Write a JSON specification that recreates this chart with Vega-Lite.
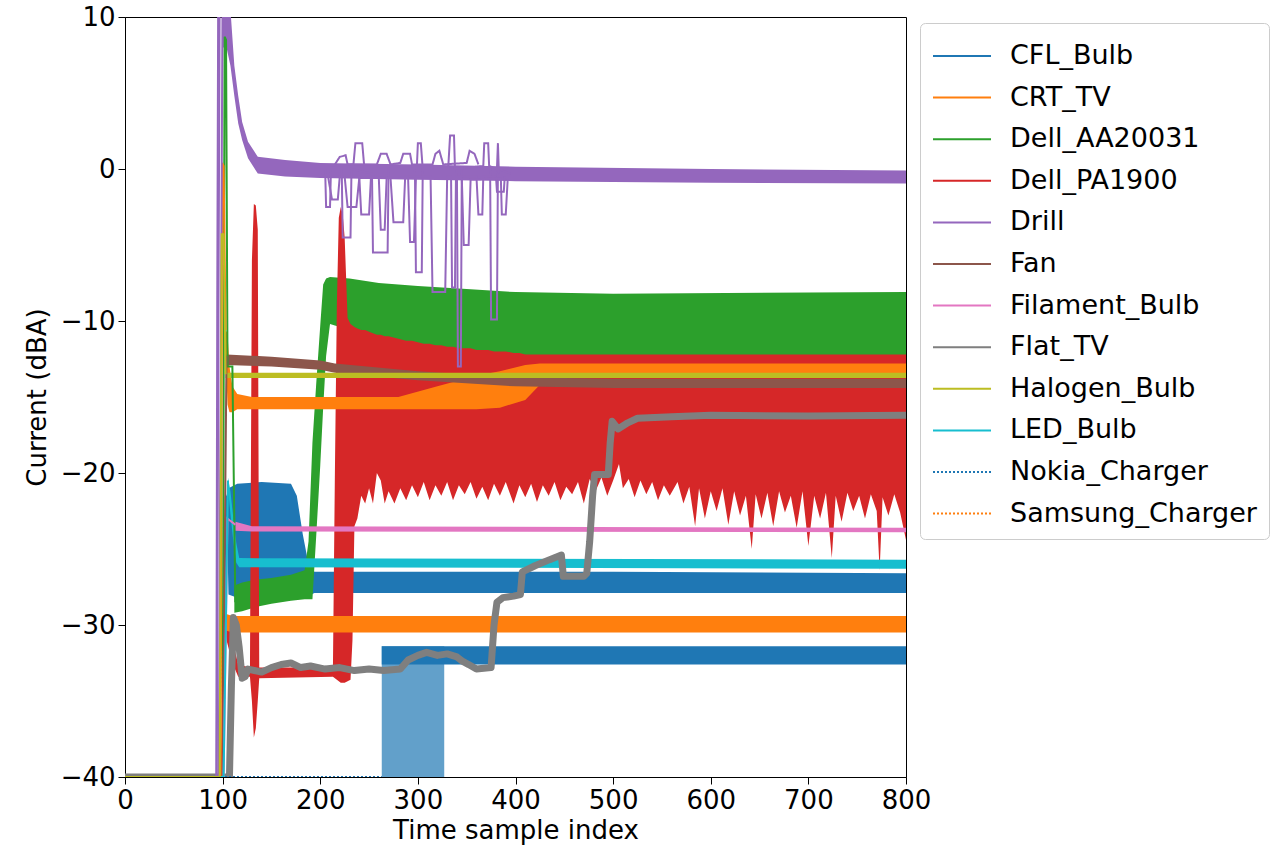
{
  "$schema": "https://vega.github.io/schema/vega-lite/v6.json",
  "width": 781,
  "height": 760,
  "autosize": "none",
  "padding": {"left": 125, "top": 17, "right": 370, "bottom": 70},
  "background": "white",
  "config": {
    "view": {"stroke": "#000000", "strokeWidth": 1},
    "axis": {"grid": false, "domainColor": "#000000", "tickColor": "#000000", "labelColor": "#000000", "titleColor": "#000000", "labelFont": "DejaVu Sans", "titleFont": "DejaVu Sans", "labelFontSize": 26, "titleFontSize": 26, "titleFontWeight": "normal", "tickSize": 7, "labelPadding": 3, "labelFlush": false, "labelOverlap": false},
    "legend": {"title": null, "orient": "none", "legendX": 795, "legendY": 6, "symbolType": "M-1,0L1.9,0", "symbolSize": 1600, "symbolStrokeWidth": 2, "labelFontSize": 27, "labelFont": "DejaVu Sans", "labelColor": "#000000", "labelOffset": 36, "rowPadding": 7.6, "padding": 12, "strokeColor": "#cccccc", "cornerRadius": 5, "fillColor": "white", "labelLimit": 400}
  },
  "datasets": {
    "bands": [
      {"d": "CFL_Bulb", "s": "s01", "x": 104, "lo": -22, "hi": -21.5},
      {"d": "CFL_Bulb", "s": "s01", "x": 106, "lo": -28, "hi": -21},
      {"d": "CFL_Bulb", "s": "s01", "x": 115, "lo": -28.2, "hi": -20.7},
      {"d": "CFL_Bulb", "s": "s01", "x": 140, "lo": -28.3, "hi": -20.6},
      {"d": "CFL_Bulb", "s": "s01", "x": 170, "lo": -28.3, "hi": -20.7},
      {"d": "CFL_Bulb", "s": "s01", "x": 176, "lo": -28.3, "hi": -21.5},
      {"d": "CFL_Bulb", "s": "s01", "x": 182, "lo": -28.2, "hi": -24},
      {"d": "CFL_Bulb", "s": "s01", "x": 188, "lo": -28.1, "hi": -26},
      {"d": "CFL_Bulb", "s": "s01", "x": 194, "lo": -27.9, "hi": -26.5},
      {"d": "CFL_Bulb", "s": "s01", "x": 500, "lo": -27.9, "hi": -26.5},
      {"d": "CFL_Bulb", "s": "s01", "x": 800, "lo": -27.9, "hi": -26.6},

      {"d": "Dell_AA20031", "s": "s02", "x": 112, "lo": -29.2, "hi": -27.4},
      {"d": "Dell_AA20031", "s": "s02", "x": 120, "lo": -29.1, "hi": -27.2},
      {"d": "Dell_AA20031", "s": "s02", "x": 135, "lo": -28.8, "hi": -27},
      {"d": "Dell_AA20031", "s": "s02", "x": 150, "lo": -28.6, "hi": -26.9},
      {"d": "Dell_AA20031", "s": "s02", "x": 170, "lo": -28.4, "hi": -26.7},
      {"d": "Dell_AA20031", "s": "s02", "x": 184, "lo": -28.3, "hi": -26.4},
      {"d": "Dell_AA20031", "s": "s02", "x": 188, "lo": -28.3, "hi": -24.5},
      {"d": "Dell_AA20031", "s": "s02", "x": 192, "lo": -28.3, "hi": -18},
      {"d": "Dell_AA20031", "s": "s02", "x": 196, "lo": -24, "hi": -14},
      {"d": "Dell_AA20031", "s": "s02", "x": 200, "lo": -19.5, "hi": -10.3},
      {"d": "Dell_AA20031", "s": "s02", "x": 203, "lo": -15.7, "hi": -7.6},
      {"d": "Dell_AA20031", "s": "s02", "x": 206, "lo": -12.3, "hi": -7.2},
      {"d": "Dell_AA20031", "s": "s02", "x": 210, "lo": -10.2, "hi": -7.1},
      {"d": "Dell_AA20031", "s": "s02", "x": 230, "lo": -10.6, "hi": -7.2},
      {"d": "Dell_AA20031", "s": "s02", "x": 260, "lo": -11.1, "hi": -7.5},
      {"d": "Dell_AA20031", "s": "s02", "x": 300, "lo": -11.6, "hi": -7.7},
      {"d": "Dell_AA20031", "s": "s02", "x": 350, "lo": -12, "hi": -7.9},
      {"d": "Dell_AA20031", "s": "s02", "x": 400, "lo": -12.3, "hi": -8.1},
      {"d": "Dell_AA20031", "s": "s02", "x": 500, "lo": -12.4, "hi": -8.2},
      {"d": "Dell_AA20031", "s": "s02", "x": 800, "lo": -12.4, "hi": -8.1},

      {"d": "Dell_PA1900", "s": "s03", "x": 102, "lo": -30, "hi": -29},
      {"d": "Dell_PA1900", "s": "s03", "x": 104, "lo": -31, "hi": -29.5},
      {"d": "Dell_PA1900", "s": "s03", "x": 110, "lo": -32.5, "hi": -31},
      {"d": "Dell_PA1900", "s": "s03", "x": 116, "lo": -33.4, "hi": -32.6},
      {"d": "Dell_PA1900", "s": "s03", "x": 128, "lo": -33.4, "hi": -32.8},
      {"d": "Dell_PA1900", "s": "s03", "x": 130, "lo": -35, "hi": -6},
      {"d": "Dell_PA1900", "s": "s03", "x": 132, "lo": -37.4, "hi": -2.3},
      {"d": "Dell_PA1900", "s": "s03", "x": 134, "lo": -36.8, "hi": -2.4},
      {"d": "Dell_PA1900", "s": "s03", "x": 136, "lo": -35, "hi": -4},
      {"d": "Dell_PA1900", "s": "s03", "x": 137.5, "lo": -33.5, "hi": -32.8},
      {"d": "Dell_PA1900", "s": "s03", "x": 213, "lo": -33.4, "hi": -32.8},
      {"d": "Dell_PA1900", "s": "s03", "x": 215, "lo": -33.5, "hi": -20},
      {"d": "Dell_PA1900", "s": "s03", "x": 217, "lo": -33.6, "hi": -9},
      {"d": "Dell_PA1900", "s": "s03", "x": 219, "lo": -33.7, "hi": -3.2},
      {"d": "Dell_PA1900", "s": "s03", "x": 221, "lo": -33.8, "hi": -2.5},
      {"d": "Dell_PA1900", "s": "s03", "x": 223, "lo": -33.8, "hi": -3},
      {"d": "Dell_PA1900", "s": "s03", "x": 225, "lo": -33.8, "hi": -4.5},
      {"d": "Dell_PA1900", "s": "s03", "x": 228, "lo": -33.7, "hi": -9.8},
      {"d": "Dell_PA1900", "s": "s03", "x": 231, "lo": -33.6, "hi": -10.2},
      {"d": "Dell_PA1900", "s": "s03", "x": 233, "lo": -31, "hi": -10.3},
      {"d": "Dell_PA1900", "s": "s03", "x": 235, "lo": -23.5, "hi": -10.4},
      {"d": "Dell_PA1900", "s": "s03", "x": 238, "lo": -23, "hi": -10.5},
      {"d": "Dell_PA1900", "s": "s03", "x": 242, "lo": -21.5, "hi": -10.6},
      {"d": "Dell_PA1900", "s": "s03", "x": 246, "lo": -22, "hi": -10.6},
      {"d": "Dell_PA1900", "s": "s03", "x": 250, "lo": -21, "hi": -10.7},
      {"d": "Dell_PA1900", "s": "s03", "x": 254, "lo": -22, "hi": -10.8},
      {"d": "Dell_PA1900", "s": "s03", "x": 258, "lo": -20, "hi": -10.9},
      {"d": "Dell_PA1900", "s": "s03", "x": 262, "lo": -20.5, "hi": -10.9},
      {"d": "Dell_PA1900", "s": "s03", "x": 266, "lo": -22, "hi": -11},
      {"d": "Dell_PA1900", "s": "s03", "x": 270, "lo": -21.2, "hi": -11},
      {"d": "Dell_PA1900", "s": "s03", "x": 276, "lo": -22, "hi": -11.1},
      {"d": "Dell_PA1900", "s": "s03", "x": 282, "lo": -21, "hi": -11.2},
      {"d": "Dell_PA1900", "s": "s03", "x": 288, "lo": -21.8, "hi": -11.3},
      {"d": "Dell_PA1900", "s": "s03", "x": 294, "lo": -20.8, "hi": -11.3},
      {"d": "Dell_PA1900", "s": "s03", "x": 300, "lo": -21.6, "hi": -11.4},
      {"d": "Dell_PA1900", "s": "s03", "x": 306, "lo": -20.6, "hi": -11.5},
      {"d": "Dell_PA1900", "s": "s03", "x": 312, "lo": -21.8, "hi": -11.5},
      {"d": "Dell_PA1900", "s": "s03", "x": 318, "lo": -20.8, "hi": -11.6},
      {"d": "Dell_PA1900", "s": "s03", "x": 324, "lo": -21.5, "hi": -11.6},
      {"d": "Dell_PA1900", "s": "s03", "x": 330, "lo": -20.6, "hi": -11.7},
      {"d": "Dell_PA1900", "s": "s03", "x": 336, "lo": -21.8, "hi": -11.7},
      {"d": "Dell_PA1900", "s": "s03", "x": 342, "lo": -20.8, "hi": -11.8},
      {"d": "Dell_PA1900", "s": "s03", "x": 348, "lo": -21.4, "hi": -11.8},
      {"d": "Dell_PA1900", "s": "s03", "x": 354, "lo": -20.6, "hi": -11.8},
      {"d": "Dell_PA1900", "s": "s03", "x": 360, "lo": -21.7, "hi": -11.9},
      {"d": "Dell_PA1900", "s": "s03", "x": 366, "lo": -20.9, "hi": -11.9},
      {"d": "Dell_PA1900", "s": "s03", "x": 372, "lo": -21.8, "hi": -11.9},
      {"d": "Dell_PA1900", "s": "s03", "x": 378, "lo": -20.7, "hi": -12},
      {"d": "Dell_PA1900", "s": "s03", "x": 384, "lo": -21.5, "hi": -12},
      {"d": "Dell_PA1900", "s": "s03", "x": 390, "lo": -20.6, "hi": -12},
      {"d": "Dell_PA1900", "s": "s03", "x": 398, "lo": -22, "hi": -12.1},
      {"d": "Dell_PA1900", "s": "s03", "x": 404, "lo": -20.8, "hi": -12.1},
      {"d": "Dell_PA1900", "s": "s03", "x": 410, "lo": -21.6, "hi": -12.2},
      {"d": "Dell_PA1900", "s": "s03", "x": 416, "lo": -20.7, "hi": -12.2},
      {"d": "Dell_PA1900", "s": "s03", "x": 422, "lo": -21.9, "hi": -12.2},
      {"d": "Dell_PA1900", "s": "s03", "x": 428, "lo": -20.8, "hi": -12.2},
      {"d": "Dell_PA1900", "s": "s03", "x": 434, "lo": -21.5, "hi": -12.2},
      {"d": "Dell_PA1900", "s": "s03", "x": 440, "lo": -20.6, "hi": -12.2},
      {"d": "Dell_PA1900", "s": "s03", "x": 446, "lo": -21.8, "hi": -12.2},
      {"d": "Dell_PA1900", "s": "s03", "x": 452, "lo": -20.9, "hi": -12.2},
      {"d": "Dell_PA1900", "s": "s03", "x": 458, "lo": -21.4, "hi": -12.2},
      {"d": "Dell_PA1900", "s": "s03", "x": 464, "lo": -20.6, "hi": -12.2},
      {"d": "Dell_PA1900", "s": "s03", "x": 470, "lo": -22, "hi": -12.2},
      {"d": "Dell_PA1900", "s": "s03", "x": 476, "lo": -20.4, "hi": -12.2},
      {"d": "Dell_PA1900", "s": "s03", "x": 482, "lo": -21.2, "hi": -12.2},
      {"d": "Dell_PA1900", "s": "s03", "x": 488, "lo": -20.3, "hi": -12.2},
      {"d": "Dell_PA1900", "s": "s03", "x": 494, "lo": -21.5, "hi": -12.2},
      {"d": "Dell_PA1900", "s": "s03", "x": 500, "lo": -20.5, "hi": -12.2},
      {"d": "Dell_PA1900", "s": "s03", "x": 506, "lo": -19.4, "hi": -12.2},
      {"d": "Dell_PA1900", "s": "s03", "x": 510, "lo": -21, "hi": -12.2},
      {"d": "Dell_PA1900", "s": "s03", "x": 516, "lo": -20.4, "hi": -12.2},
      {"d": "Dell_PA1900", "s": "s03", "x": 522, "lo": -21.6, "hi": -12.2},
      {"d": "Dell_PA1900", "s": "s03", "x": 528, "lo": -20.5, "hi": -12.2},
      {"d": "Dell_PA1900", "s": "s03", "x": 534, "lo": -21.4, "hi": -12.2},
      {"d": "Dell_PA1900", "s": "s03", "x": 540, "lo": -20.6, "hi": -12.2},
      {"d": "Dell_PA1900", "s": "s03", "x": 546, "lo": -21.8, "hi": -12.2},
      {"d": "Dell_PA1900", "s": "s03", "x": 552, "lo": -20.8, "hi": -12.2},
      {"d": "Dell_PA1900", "s": "s03", "x": 558, "lo": -21.5, "hi": -12.2},
      {"d": "Dell_PA1900", "s": "s03", "x": 566, "lo": -20.6, "hi": -12.2},
      {"d": "Dell_PA1900", "s": "s03", "x": 572, "lo": -22, "hi": -12.2},
      {"d": "Dell_PA1900", "s": "s03", "x": 578, "lo": -20.9, "hi": -12.2},
      {"d": "Dell_PA1900", "s": "s03", "x": 584, "lo": -23.5, "hi": -12.2},
      {"d": "Dell_PA1900", "s": "s03", "x": 588, "lo": -21, "hi": -12.2},
      {"d": "Dell_PA1900", "s": "s03", "x": 594, "lo": -23, "hi": -12.2},
      {"d": "Dell_PA1900", "s": "s03", "x": 600, "lo": -21.2, "hi": -12.2},
      {"d": "Dell_PA1900", "s": "s03", "x": 606, "lo": -22.5, "hi": -12.2},
      {"d": "Dell_PA1900", "s": "s03", "x": 612, "lo": -21, "hi": -12.2},
      {"d": "Dell_PA1900", "s": "s03", "x": 618, "lo": -23.4, "hi": -12.2},
      {"d": "Dell_PA1900", "s": "s03", "x": 624, "lo": -21.2, "hi": -12.2},
      {"d": "Dell_PA1900", "s": "s03", "x": 630, "lo": -22.8, "hi": -12.2},
      {"d": "Dell_PA1900", "s": "s03", "x": 636, "lo": -21.5, "hi": -12.2},
      {"d": "Dell_PA1900", "s": "s03", "x": 642, "lo": -25, "hi": -12.2},
      {"d": "Dell_PA1900", "s": "s03", "x": 646, "lo": -21.4, "hi": -12.2},
      {"d": "Dell_PA1900", "s": "s03", "x": 652, "lo": -23, "hi": -12.2},
      {"d": "Dell_PA1900", "s": "s03", "x": 658, "lo": -21.3, "hi": -12.2},
      {"d": "Dell_PA1900", "s": "s03", "x": 664, "lo": -23.5, "hi": -12.2},
      {"d": "Dell_PA1900", "s": "s03", "x": 670, "lo": -21.2, "hi": -12.2},
      {"d": "Dell_PA1900", "s": "s03", "x": 676, "lo": -22.6, "hi": -12.2},
      {"d": "Dell_PA1900", "s": "s03", "x": 682, "lo": -21.5, "hi": -12.2},
      {"d": "Dell_PA1900", "s": "s03", "x": 688, "lo": -23.6, "hi": -12.2},
      {"d": "Dell_PA1900", "s": "s03", "x": 694, "lo": -21.2, "hi": -12.2},
      {"d": "Dell_PA1900", "s": "s03", "x": 700, "lo": -24.8, "hi": -12.2},
      {"d": "Dell_PA1900", "s": "s03", "x": 706, "lo": -21.5, "hi": -12.2},
      {"d": "Dell_PA1900", "s": "s03", "x": 712, "lo": -23, "hi": -12.2},
      {"d": "Dell_PA1900", "s": "s03", "x": 718, "lo": -21.3, "hi": -12.2},
      {"d": "Dell_PA1900", "s": "s03", "x": 724, "lo": -25.6, "hi": -12.2},
      {"d": "Dell_PA1900", "s": "s03", "x": 728, "lo": -21.5, "hi": -12.2},
      {"d": "Dell_PA1900", "s": "s03", "x": 734, "lo": -23.2, "hi": -12.2},
      {"d": "Dell_PA1900", "s": "s03", "x": 740, "lo": -21.3, "hi": -12.2},
      {"d": "Dell_PA1900", "s": "s03", "x": 746, "lo": -22.5, "hi": -12.2},
      {"d": "Dell_PA1900", "s": "s03", "x": 752, "lo": -21.5, "hi": -12.2},
      {"d": "Dell_PA1900", "s": "s03", "x": 758, "lo": -23, "hi": -12.2},
      {"d": "Dell_PA1900", "s": "s03", "x": 764, "lo": -21.4, "hi": -12.2},
      {"d": "Dell_PA1900", "s": "s03", "x": 770, "lo": -22.5, "hi": -12.2},
      {"d": "Dell_PA1900", "s": "s03", "x": 773, "lo": -26.4, "hi": -12.2},
      {"d": "Dell_PA1900", "s": "s03", "x": 776, "lo": -21.6, "hi": -12.2},
      {"d": "Dell_PA1900", "s": "s03", "x": 782, "lo": -22.8, "hi": -12.2},
      {"d": "Dell_PA1900", "s": "s03", "x": 788, "lo": -21.4, "hi": -12.2},
      {"d": "Dell_PA1900", "s": "s03", "x": 794, "lo": -22.6, "hi": -12.2},
      {"d": "Dell_PA1900", "s": "s03", "x": 800, "lo": -24.4, "hi": -12.2},

      {"d": "CRT_TV", "s": "s04", "x": 103, "lo": -12, "hi": -10.6},
      {"d": "CRT_TV", "s": "s04", "x": 105, "lo": -15.5, "hi": -10.8},
      {"d": "CRT_TV", "s": "s04", "x": 107, "lo": -16, "hi": -13},
      {"d": "CRT_TV", "s": "s04", "x": 110, "lo": -16, "hi": -14.3},
      {"d": "CRT_TV", "s": "s04", "x": 115, "lo": -15.8, "hi": -14.8},
      {"d": "CRT_TV", "s": "s04", "x": 130, "lo": -15.8, "hi": -15},
      {"d": "CRT_TV", "s": "s04", "x": 280, "lo": -15.8, "hi": -15},
      {"d": "CRT_TV", "s": "s04", "x": 320, "lo": -15.8, "hi": -14.3},
      {"d": "CRT_TV", "s": "s04", "x": 360, "lo": -15.8, "hi": -13.6},
      {"d": "CRT_TV", "s": "s04", "x": 384, "lo": -15.7, "hi": -13.3},
      {"d": "CRT_TV", "s": "s04", "x": 410, "lo": -15.2, "hi": -12.9},
      {"d": "CRT_TV", "s": "s04", "x": 425, "lo": -14.2, "hi": -12.8},
      {"d": "CRT_TV", "s": "s04", "x": 445, "lo": -13.7, "hi": -12.8},
      {"d": "CRT_TV", "s": "s04", "x": 800, "lo": -13.6, "hi": -12.8},

      {"d": "Samsung_Charger", "s": "s05", "x": 100, "lo": -30.3, "hi": -29.2},
      {"d": "Samsung_Charger", "s": "s05", "x": 110, "lo": -30.5, "hi": -29.4},
      {"d": "Samsung_Charger", "s": "s05", "x": 800, "lo": -30.5, "hi": -29.4},

      {"d": "Drill", "s": "s06", "x": 100, "lo": 8, "hi": 12},
      {"d": "Drill", "s": "s06", "x": 104, "lo": 8, "hi": 12},
      {"d": "Drill", "s": "s06", "x": 108, "lo": 6.8, "hi": 10.5},
      {"d": "Drill", "s": "s06", "x": 112, "lo": 4.8, "hi": 6.8},
      {"d": "Drill", "s": "s06", "x": 116, "lo": 3, "hi": 4.8},
      {"d": "Drill", "s": "s06", "x": 120, "lo": 1.9, "hi": 3.1},
      {"d": "Drill", "s": "s06", "x": 126, "lo": 0.7, "hi": 1.8},
      {"d": "Drill", "s": "s06", "x": 136, "lo": -0.3, "hi": 0.8},
      {"d": "Drill", "s": "s06", "x": 164, "lo": -0.5, "hi": 0.6},
      {"d": "Drill", "s": "s06", "x": 200, "lo": -0.6, "hi": 0.4},
      {"d": "Drill", "s": "s06", "x": 300, "lo": -0.7, "hi": 0.3},
      {"d": "Drill", "s": "s06", "x": 400, "lo": -0.8, "hi": 0.15},
      {"d": "Drill", "s": "s06", "x": 600, "lo": -0.9, "hi": 0},
      {"d": "Drill", "s": "s06", "x": 800, "lo": -0.95, "hi": -0.1},

      {"d": "Fan", "s": "s07", "x": 104, "lo": -12.9, "hi": -12.2},
      {"d": "Fan", "s": "s07", "x": 150, "lo": -13, "hi": -12.35},
      {"d": "Fan", "s": "s07", "x": 200, "lo": -13.2, "hi": -12.6},
      {"d": "Fan", "s": "s07", "x": 215, "lo": -13.4, "hi": -12.8},
      {"d": "Fan", "s": "s07", "x": 300, "lo": -13.9, "hi": -13.3},
      {"d": "Fan", "s": "s07", "x": 400, "lo": -14.3, "hi": -13.7},
      {"d": "Fan", "s": "s07", "x": 500, "lo": -14.4, "hi": -13.8},
      {"d": "Fan", "s": "s07", "x": 800, "lo": -14.4, "hi": -13.8},

      {"d": "Halogen_Bulb", "s": "s08", "x": 103, "lo": -13.75, "hi": -13.4},
      {"d": "Halogen_Bulb", "s": "s08", "x": 800, "lo": -13.75, "hi": -13.4},

      {"d": "Filament_Bulb", "s": "s09", "x": 113, "lo": -23.8, "hi": -23.2},
      {"d": "Filament_Bulb", "s": "s09", "x": 130, "lo": -23.85, "hi": -23.5},
      {"d": "Filament_Bulb", "s": "s09", "x": 800, "lo": -23.9, "hi": -23.6},

      {"d": "LED_Bulb", "s": "s10", "x": 105.5, "lo": -21, "hi": -20.3},
      {"d": "LED_Bulb", "s": "s10", "x": 108, "lo": -22.7, "hi": -21.2},
      {"d": "LED_Bulb", "s": "s10", "x": 111, "lo": -24.5, "hi": -23},
      {"d": "LED_Bulb", "s": "s10", "x": 114, "lo": -25.9, "hi": -24.6},
      {"d": "LED_Bulb", "s": "s10", "x": 117, "lo": -26.2, "hi": -25.6},
      {"d": "LED_Bulb", "s": "s10", "x": 800, "lo": -26.3, "hi": -25.7},

      {"d": "Nokia_Charger", "s": "s11", "x": 263, "lo": -32.6, "hi": -31.4},
      {"d": "Nokia_Charger", "s": "s11", "x": 800, "lo": -32.6, "hi": -31.4}
    ],
    "burst": [
      {"d": "Nokia_Charger", "x": 263, "lo": -40, "hi": -31.4},
      {"d": "Nokia_Charger", "x": 327, "lo": -40, "hi": -31.4}
    ],
    "tv": [
      {"d": "Flat_TV", "x": 0, "y": -40},
      {"d": "Flat_TV", "x": 107, "y": -40},
      {"d": "Flat_TV", "x": 109, "y": -34},
      {"d": "Flat_TV", "x": 111, "y": -29.5},
      {"d": "Flat_TV", "x": 114, "y": -30},
      {"d": "Flat_TV", "x": 117, "y": -31.5},
      {"d": "Flat_TV", "x": 120, "y": -33.5},
      {"d": "Flat_TV", "x": 123, "y": -33.4},
      {"d": "Flat_TV", "x": 126, "y": -32.9},
      {"d": "Flat_TV", "x": 140, "y": -33.1},
      {"d": "Flat_TV", "x": 150, "y": -32.8},
      {"d": "Flat_TV", "x": 160, "y": -32.6},
      {"d": "Flat_TV", "x": 170, "y": -32.5},
      {"d": "Flat_TV", "x": 180, "y": -32.8},
      {"d": "Flat_TV", "x": 190, "y": -32.7},
      {"d": "Flat_TV", "x": 205, "y": -32.9},
      {"d": "Flat_TV", "x": 220, "y": -32.8},
      {"d": "Flat_TV", "x": 235, "y": -33},
      {"d": "Flat_TV", "x": 250, "y": -32.9},
      {"d": "Flat_TV", "x": 265, "y": -33},
      {"d": "Flat_TV", "x": 282, "y": -32.9},
      {"d": "Flat_TV", "x": 290, "y": -32.3},
      {"d": "Flat_TV", "x": 300, "y": -32},
      {"d": "Flat_TV", "x": 309, "y": -31.8},
      {"d": "Flat_TV", "x": 320, "y": -32},
      {"d": "Flat_TV", "x": 330, "y": -31.9},
      {"d": "Flat_TV", "x": 340, "y": -32.1},
      {"d": "Flat_TV", "x": 346, "y": -32.4},
      {"d": "Flat_TV", "x": 352, "y": -32.6},
      {"d": "Flat_TV", "x": 360, "y": -32.9},
      {"d": "Flat_TV", "x": 375, "y": -32.8},
      {"d": "Flat_TV", "x": 378, "y": -30},
      {"d": "Flat_TV", "x": 381, "y": -28.5},
      {"d": "Flat_TV", "x": 387, "y": -28.2},
      {"d": "Flat_TV", "x": 398, "y": -28.1},
      {"d": "Flat_TV", "x": 405, "y": -28},
      {"d": "Flat_TV", "x": 407, "y": -26.5},
      {"d": "Flat_TV", "x": 420, "y": -26.1},
      {"d": "Flat_TV", "x": 435, "y": -25.7},
      {"d": "Flat_TV", "x": 447, "y": -25.4},
      {"d": "Flat_TV", "x": 449, "y": -26.8},
      {"d": "Flat_TV", "x": 470, "y": -26.8},
      {"d": "Flat_TV", "x": 473, "y": -26.6},
      {"d": "Flat_TV", "x": 476, "y": -24.5},
      {"d": "Flat_TV", "x": 479, "y": -21.5},
      {"d": "Flat_TV", "x": 481, "y": -20.1},
      {"d": "Flat_TV", "x": 495, "y": -20.1},
      {"d": "Flat_TV", "x": 497, "y": -18},
      {"d": "Flat_TV", "x": 499, "y": -16.6},
      {"d": "Flat_TV", "x": 505, "y": -17.1},
      {"d": "Flat_TV", "x": 515, "y": -16.7},
      {"d": "Flat_TV", "x": 525, "y": -16.4},
      {"d": "Flat_TV", "x": 560, "y": -16.3},
      {"d": "Flat_TV", "x": 600, "y": -16.2},
      {"d": "Flat_TV", "x": 700, "y": -16.25},
      {"d": "Flat_TV", "x": 800, "y": -16.2}
    ],
    "traces": [
      {"d": "Nokia_Charger", "s": "t01", "x": 0, "y": -40},
      {"d": "Nokia_Charger", "s": "t01", "x": 263, "y": -40},
      {"d": "CFL_Bulb", "s": "t02", "x": 0, "y": -40},
      {"d": "CFL_Bulb", "s": "t02", "x": 100, "y": -40},
      {"d": "CFL_Bulb", "s": "t02", "x": 104, "y": -21.5},
      {"d": "Samsung_Charger", "s": "t03", "x": 0, "y": -40},
      {"d": "Samsung_Charger", "s": "t03", "x": 96, "y": -40},
      {"d": "Samsung_Charger", "s": "t03", "x": 99, "y": -29.5},
      {"d": "Samsung_Charger", "s": "t03", "x": 101, "y": -29.7},
      {"d": "Dell_AA20031", "s": "t04", "x": 0, "y": -40},
      {"d": "Dell_AA20031", "s": "t04", "x": 100, "y": -40},
      {"d": "Dell_AA20031", "s": "t04", "x": 102, "y": 8.7},
      {"d": "Dell_AA20031", "s": "t04", "x": 103.5, "y": 8.5},
      {"d": "Dell_AA20031", "s": "t04", "x": 105, "y": -13},
      {"d": "Dell_AA20031", "s": "t04", "x": 110, "y": -13},
      {"d": "Dell_AA20031", "s": "t04", "x": 113, "y": -28.5},
      {"d": "Dell_PA1900", "s": "t05", "x": 0, "y": -40},
      {"d": "Dell_PA1900", "s": "t05", "x": 99, "y": -40},
      {"d": "Dell_PA1900", "s": "t05", "x": 102, "y": -29.5},
      {"d": "CRT_TV", "s": "t06", "x": 0, "y": -40},
      {"d": "CRT_TV", "s": "t06", "x": 98, "y": -40},
      {"d": "CRT_TV", "s": "t06", "x": 99.5, "y": 0.4},
      {"d": "CRT_TV", "s": "t06", "x": 101, "y": 0.2},
      {"d": "CRT_TV", "s": "t06", "x": 103, "y": -10.6},
      {"d": "Fan", "s": "t07", "x": 0, "y": -40},
      {"d": "Fan", "s": "t07", "x": 100, "y": -40},
      {"d": "Fan", "s": "t07", "x": 104, "y": -12.3},
      {"d": "Filament_Bulb", "s": "t08", "x": 0, "y": -40},
      {"d": "Filament_Bulb", "s": "t08", "x": 101, "y": -40},
      {"d": "Filament_Bulb", "s": "t08", "x": 105, "y": -23},
      {"d": "Filament_Bulb", "s": "t08", "x": 113, "y": -23.4},
      {"d": "LED_Bulb", "s": "t09", "x": 0, "y": -40},
      {"d": "LED_Bulb", "s": "t09", "x": 101, "y": -40},
      {"d": "LED_Bulb", "s": "t09", "x": 105.5, "y": -20.5},
      {"d": "Drill", "s": "t10", "x": 0, "y": -40},
      {"d": "Drill", "s": "t10", "x": 93.5, "y": -40},
      {"d": "Drill", "s": "t10", "x": 94.5, "y": -8.6},
      {"d": "Drill", "s": "t10", "x": 95.5, "y": 12},
      {"d": "Drill", "s": "t11", "x": 94, "y": -40},
      {"d": "Drill", "s": "t11", "x": 97, "y": 12},
      {"d": "Drill", "s": "t12", "x": 96, "y": -40},
      {"d": "Drill", "s": "t12", "x": 100, "y": 12},
      {"d": "Drill", "s": "t13", "x": 200, "y": 0},
      {"d": "Drill", "s": "t13", "x": 205, "y": 0},
      {"d": "Drill", "s": "t13", "x": 206, "y": -2.5},
      {"d": "Drill", "s": "t13", "x": 210, "y": -2.5},
      {"d": "Drill", "s": "t13", "x": 211, "y": 0},
      {"d": "Drill", "s": "t13", "x": 222, "y": 0},
      {"d": "Drill", "s": "t13", "x": 223, "y": -4.5},
      {"d": "Drill", "s": "t13", "x": 231, "y": -4.5},
      {"d": "Drill", "s": "t13", "x": 232, "y": 0},
      {"d": "Drill", "s": "t13", "x": 253, "y": -0.3},
      {"d": "Drill", "s": "t13", "x": 254, "y": -5.5},
      {"d": "Drill", "s": "t13", "x": 269, "y": -5.5},
      {"d": "Drill", "s": "t13", "x": 270, "y": 0},
      {"d": "Drill", "s": "t13", "x": 297, "y": 0},
      {"d": "Drill", "s": "t13", "x": 298, "y": -6.8},
      {"d": "Drill", "s": "t13", "x": 304, "y": -6.8},
      {"d": "Drill", "s": "t13", "x": 305, "y": 0},
      {"d": "Drill", "s": "t13", "x": 340, "y": 0},
      {"d": "Drill", "s": "t13", "x": 341, "y": -13},
      {"d": "Drill", "s": "t13", "x": 344, "y": -13},
      {"d": "Drill", "s": "t13", "x": 345, "y": 0},
      {"d": "Drill", "s": "t13", "x": 374, "y": 0},
      {"d": "Drill", "s": "t13", "x": 375, "y": -9.9},
      {"d": "Drill", "s": "t13", "x": 381, "y": -9.9},
      {"d": "Drill", "s": "t13", "x": 382, "y": 0},
      {"d": "Drill", "s": "t13", "x": 395, "y": -0.3},
      {"d": "Drill", "s": "t14", "x": 210, "y": 0.2},
      {"d": "Drill", "s": "t14", "x": 234, "y": 0.3},
      {"d": "Drill", "s": "t14", "x": 236, "y": 1.7},
      {"d": "Drill", "s": "t14", "x": 243, "y": 1.7},
      {"d": "Drill", "s": "t14", "x": 245, "y": 0.2},
      {"d": "Drill", "s": "t14", "x": 299, "y": 0.2},
      {"d": "Drill", "s": "t14", "x": 300, "y": 1.7},
      {"d": "Drill", "s": "t14", "x": 303, "y": 1.7},
      {"d": "Drill", "s": "t14", "x": 305, "y": 0},
      {"d": "Drill", "s": "t14", "x": 331, "y": 0},
      {"d": "Drill", "s": "t14", "x": 333, "y": 2.2},
      {"d": "Drill", "s": "t14", "x": 337, "y": 2.2},
      {"d": "Drill", "s": "t14", "x": 338, "y": 0},
      {"d": "Drill", "s": "t14", "x": 367, "y": 0.2},
      {"d": "Drill", "s": "t14", "x": 368, "y": 1.7},
      {"d": "Drill", "s": "t14", "x": 372, "y": 1.7},
      {"d": "Drill", "s": "t14", "x": 373, "y": 0.2},
      {"d": "Drill", "s": "t14", "x": 381, "y": 0},
      {"d": "Drill", "s": "t14", "x": 382, "y": 1.7},
      {"d": "Drill", "s": "t14", "x": 383, "y": -0.3},
      {"d": "Drill", "s": "t15", "x": 208, "y": -0.5},
      {"d": "Drill", "s": "t15", "x": 212, "y": -2},
      {"d": "Drill", "s": "t15", "x": 218, "y": -2},
      {"d": "Drill", "s": "t15", "x": 220, "y": -0.5},
      {"d": "Drill", "s": "t15", "x": 240, "y": -0.5},
      {"d": "Drill", "s": "t15", "x": 242, "y": -3},
      {"d": "Drill", "s": "t15", "x": 250, "y": -3},
      {"d": "Drill", "s": "t15", "x": 252, "y": -0.5},
      {"d": "Drill", "s": "t15", "x": 272, "y": -0.6},
      {"d": "Drill", "s": "t15", "x": 275, "y": -3.5},
      {"d": "Drill", "s": "t15", "x": 285, "y": -3.5},
      {"d": "Drill", "s": "t15", "x": 287, "y": -0.5},
      {"d": "Drill", "s": "t15", "x": 313, "y": -0.5},
      {"d": "Drill", "s": "t15", "x": 315, "y": -8.1},
      {"d": "Drill", "s": "t15", "x": 328, "y": -8.1},
      {"d": "Drill", "s": "t15", "x": 330, "y": -0.5},
      {"d": "Drill", "s": "t15", "x": 334, "y": -0.5},
      {"d": "Drill", "s": "t15", "x": 335, "y": -7.8},
      {"d": "Drill", "s": "t15", "x": 338, "y": -7.8},
      {"d": "Drill", "s": "t15", "x": 339, "y": -0.5},
      {"d": "Drill", "s": "t15", "x": 360, "y": -0.5},
      {"d": "Drill", "s": "t15", "x": 362, "y": -3},
      {"d": "Drill", "s": "t15", "x": 366, "y": -3},
      {"d": "Drill", "s": "t15", "x": 367, "y": -0.5},
      {"d": "Drill", "s": "t15", "x": 380, "y": -0.5},
      {"d": "Drill", "s": "t15", "x": 381, "y": -1.5},
      {"d": "Drill", "s": "t15", "x": 388, "y": -1.5},
      {"d": "Drill", "s": "t15", "x": 389, "y": -0.5},
      {"d": "Drill", "s": "t16", "x": 215, "y": 0.3},
      {"d": "Drill", "s": "t16", "x": 220, "y": 0.8},
      {"d": "Drill", "s": "t16", "x": 226, "y": 0.9},
      {"d": "Drill", "s": "t16", "x": 228, "y": 0.3},
      {"d": "Drill", "s": "t16", "x": 258, "y": 0.3},
      {"d": "Drill", "s": "t16", "x": 262, "y": 1},
      {"d": "Drill", "s": "t16", "x": 268, "y": 1},
      {"d": "Drill", "s": "t16", "x": 272, "y": 0.3},
      {"d": "Drill", "s": "t16", "x": 282, "y": 0.4},
      {"d": "Drill", "s": "t16", "x": 285, "y": 1},
      {"d": "Drill", "s": "t16", "x": 292, "y": 1},
      {"d": "Drill", "s": "t16", "x": 294, "y": 0.3},
      {"d": "Drill", "s": "t16", "x": 315, "y": 0.3},
      {"d": "Drill", "s": "t16", "x": 318, "y": 1},
      {"d": "Drill", "s": "t16", "x": 322, "y": 1.2},
      {"d": "Drill", "s": "t16", "x": 326, "y": 0.3},
      {"d": "Drill", "s": "t16", "x": 350, "y": 0.4},
      {"d": "Drill", "s": "t16", "x": 353, "y": 1.2},
      {"d": "Drill", "s": "t16", "x": 358, "y": 1},
      {"d": "Drill", "s": "t16", "x": 362, "y": 0.3},
      {"d": "Drill", "s": "t17", "x": 225, "y": -0.5},
      {"d": "Drill", "s": "t17", "x": 228, "y": -2.5},
      {"d": "Drill", "s": "t17", "x": 237, "y": -2.5},
      {"d": "Drill", "s": "t17", "x": 240, "y": -0.6},
      {"d": "Drill", "s": "t17", "x": 260, "y": -0.6},
      {"d": "Drill", "s": "t17", "x": 262, "y": -4},
      {"d": "Drill", "s": "t17", "x": 266, "y": -4},
      {"d": "Drill", "s": "t17", "x": 268, "y": -0.6},
      {"d": "Drill", "s": "t17", "x": 290, "y": -0.6},
      {"d": "Drill", "s": "t17", "x": 292, "y": -4.8},
      {"d": "Drill", "s": "t17", "x": 296, "y": -4.8},
      {"d": "Drill", "s": "t17", "x": 298, "y": -0.6},
      {"d": "Drill", "s": "t17", "x": 345, "y": -0.6},
      {"d": "Drill", "s": "t17", "x": 347, "y": -5},
      {"d": "Drill", "s": "t17", "x": 352, "y": -5},
      {"d": "Drill", "s": "t17", "x": 354, "y": -0.7},
      {"d": "Drill", "s": "t17", "x": 385, "y": -0.6},
      {"d": "Drill", "s": "t17", "x": 386, "y": -3},
      {"d": "Drill", "s": "t17", "x": 390, "y": -3},
      {"d": "Drill", "s": "t17", "x": 392, "y": -0.7},
      {"d": "Halogen_Bulb", "s": "t18", "x": 0, "y": -40},
      {"d": "Halogen_Bulb", "s": "t18", "x": 97, "y": -40},
      {"d": "Halogen_Bulb", "s": "t18", "x": 99, "y": -4.3},
      {"d": "Halogen_Bulb", "s": "t18", "x": 101, "y": -4.3},
      {"d": "Halogen_Bulb", "s": "t18", "x": 103, "y": -13.5}
    ]
  },
  "layer": [
    {
      "data": {"name": "bands"},
      "mark": {"type": "area", "clip": true, "opacity": 1, "interpolate": "linear"},
      "encoding": {
        "x": {"field": "x", "type": "quantitative", "scale": {"domain": [0, 800], "nice": false, "zero": false}, "axis": {"values": [0, 100, 200, 300, 400, 500, 600, 700, 800], "format": "d", "title": "Time sample index", "titlePadding": 4}},
        "y": {"field": "lo", "type": "quantitative", "stack": null, "scale": {"domain": [-40, 10], "nice": false, "zero": false}, "axis": {"values": [10, 0, -10, -20, -30, -40], "format": "d", "title": "Current (dBA)", "titlePadding": 10}},
        "y2": {"field": "hi"},
        "color": {"field": "d", "type": "nominal", "scale": {"domain": ["CFL_Bulb", "CRT_TV", "Dell_AA20031", "Dell_PA1900", "Drill", "Fan", "Filament_Bulb", "Flat_TV", "Halogen_Bulb", "LED_Bulb", "Nokia_Charger", "Samsung_Charger"], "range": ["#1f77b4", "#ff7f0e", "#2ca02c", "#d62728", "#9467bd", "#8c564b", "#e377c2", "#7f7f7f", "#bcbd22", "#17becf", "#1f77b4", "#ff7f0e"]}},
        "detail": {"field": "s", "type": "nominal"}
      }
    },
    {
      "data": {"name": "burst"},
      "mark": {"type": "area", "clip": true, "opacity": 0.7},
      "encoding": {
        "x": {"field": "x", "type": "quantitative"},
        "y": {"field": "lo", "type": "quantitative", "stack": null},
        "y2": {"field": "hi"},
        "color": {"field": "d", "type": "nominal"}
      }
    },
    {
      "data": {"name": "tv"},
      "mark": {"type": "line", "clip": true, "strokeWidth": 7, "strokeJoin": "round"},
      "encoding": {
        "x": {"field": "x", "type": "quantitative"},
        "y": {"field": "y", "type": "quantitative"},
        "color": {"field": "d", "type": "nominal"}
      }
    },
    {
      "data": {"name": "traces"},
      "mark": {"type": "line", "clip": true, "strokeWidth": 2},
      "encoding": {
        "x": {"field": "x", "type": "quantitative"},
        "y": {"field": "y", "type": "quantitative"},
        "detail": {"field": "s", "type": "nominal"},
        "color": {"field": "d", "type": "nominal"},
        "strokeDash": {"field": "d", "type": "nominal", "scale": {"domain": ["CFL_Bulb", "CRT_TV", "Dell_AA20031", "Dell_PA1900", "Drill", "Fan", "Filament_Bulb", "Flat_TV", "Halogen_Bulb", "LED_Bulb", "Nokia_Charger", "Samsung_Charger"], "range": [[1, 0], [1, 0], [1, 0], [1, 0], [1, 0], [1, 0], [1, 0], [1, 0], [1, 0], [1, 0], [2, 2], [2, 2]]}}
      }
    }
  ]
}
